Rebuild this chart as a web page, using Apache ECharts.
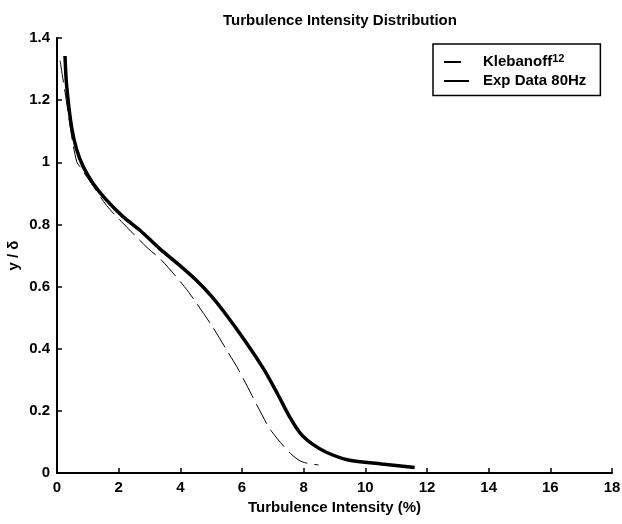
<!DOCTYPE html>
<html>
<head>
<meta charset="utf-8">
<script src="https://cdn.jsdelivr.net/npm/echarts@6/dist/echarts.min.js"></script>
<style>html,body{margin:0;padding:0;background:#fff}#c{width:622px;height:524px}</style>
</head>
<body>
<div id="c"></div>
<script>
// Klebanoff reference profile (x = turbulence intensity %, y = y/δ)
const klebanoffX = [0.1, 0.3, 0.5, 0.64, 0.74, 1.2, 1.6, 2.09, 2.95, 3.38, 4.13, 4.45, 5.04, 5.47, 5.9, 6.65, 6.93, 7.57, 7.95, 8.48];
const klebanoffY = [1.327, 1.2, 1.07, 1.002, 0.986, 0.92, 0.862, 0.809, 0.723, 0.686, 0.6, 0.557, 0.471, 0.401, 0.33, 0.187, 0.138, 0.063, 0.036, 0.026];
// Experimental data 80 Hz
const expX = [0.26, 0.31, 0.47, 0.64, 0.85, 1.17, 1.6, 2.14, 2.68, 3.32, 3.97, 4.51, 5.0, 5.45, 6.1, 6.7, 7.15, 7.55, 7.9, 8.3, 8.75, 9.45, 10.53, 11.6];
const expY = [1.342, 1.25, 1.115, 1.04, 0.986, 0.932, 0.879, 0.825, 0.782, 0.723, 0.669, 0.621, 0.57, 0.514, 0.425, 0.335, 0.255, 0.18, 0.127, 0.092, 0.066, 0.042, 0.029, 0.018];
const xTicks = {min: 0, max: 18, interval: 2};
const yTicks = {min: 0, max: 1.4, interval: 0.2};
const titleText = 'Turbulence Intensity Distribution';
const xName = 'Turbulence Intensity (%)';
const yName = 'y / δ';
const seriesNames = ['Klebanoff', 'Exp Data 80Hz'];

const zip = (a, b) => a.map((v, i) => [v, b[i]]);
const font = 'Liberation Sans, Arial, sans-serif';
const chart = echarts.init(document.getElementById('c'));
const axisCommon = {
  axisLine: {show: true, lineStyle: {color: '#000', width: 2}},
  axisTick: {show: true, inside: true, length: 5, lineStyle: {color: '#000', width: 1.5}},
  splitLine: {show: false},
  axisLabel: {color: '#000', fontFamily: font, fontWeight: 'bold', fontSize: 15, margin: 7},
  nameTextStyle: {color: '#000', fontFamily: font, fontWeight: 'bold', fontSize: 15},
  nameMoveOverlap: false
};
chart.setOption({
  backgroundColor: '#fff',
  animation: false,
  title: {
    text: titleText, left: 335, top: 8, textAlign: 'center',
    textStyle: {color: '#000', fontFamily: font, fontWeight: 'bold', fontSize: 15}
  },
  grid: {left: 57, right: 10, top: 38, bottom: 51, containLabel: false, outerBoundsMode: 'none'},
  legend: {
    orient: 'vertical', left: 433, top: 44,
    data: [
      {name: seriesNames[0], lineStyle: {type: [17, 9], width: 2}},
      {name: seriesNames[1], lineStyle: {type: 'solid', width: 2}}
    ],
    itemStyle: {opacity: 0},
    backgroundColor: '#fff', borderColor: '#000', borderWidth: 1.5, borderRadius: 0,
    padding: [9, 14, 7, 10], itemGap: 4, itemWidth: 25, itemHeight: 10,
    formatter: n => n === 'Klebanoff' ? 'Klebanoff{sup|12}' : n,
    textStyle: {
      color: '#000', fontFamily: font, fontWeight: 'bold', fontSize: 15, padding: [0, 0, 0, 9],
      rich: {sup: {fontSize: 11, fontWeight: 'bold', fontFamily: font, verticalAlign: 'top', padding: [0, 0, 7, 0]}}
    }
  },
  xAxis: Object.assign({
    type: 'value', min: xTicks.min, max: xTicks.max, interval: xTicks.interval,
    name: xName, nameLocation: 'middle', nameGap: 27
  }, axisCommon),
  yAxis: Object.assign({
    type: 'value', min: yTicks.min, max: yTicks.max, interval: yTicks.interval,
    name: yName, nameLocation: 'middle', nameGap: 36
  }, axisCommon),
  series: [
    {
      name: seriesNames[0], type: 'line', data: zip(klebanoffX, klebanoffY),
      symbol: 'none', smooth: 0.3, color: '#000',
      lineStyle: {color: '#000', width: 1, type: [22, 7]}
    },
    {
      name: seriesNames[1], type: 'line', data: zip(expX, expY),
      symbol: 'none', smooth: 0.3, color: '#000',
      lineStyle: {color: '#000', width: 3.5}
    }
  ]
});
</script>
</body>
</html>
